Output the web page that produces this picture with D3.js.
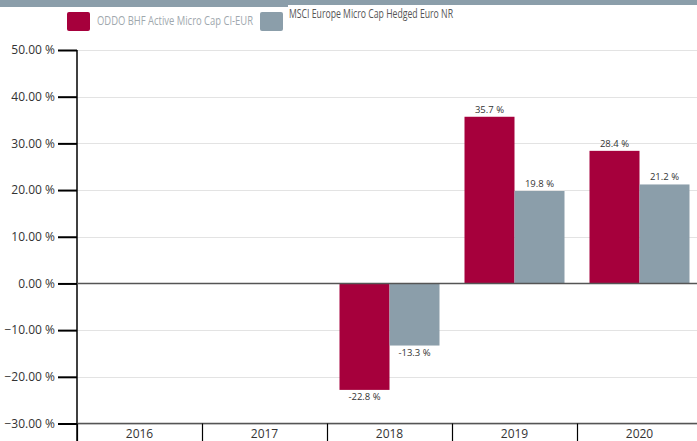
<!DOCTYPE html>
<html><head><meta charset="utf-8">
<script src="https://cdn.jsdelivr.net/npm/d3@7"></script>
<style>body{margin:0;background:#fff;}svg{display:block;font-family:"Open Sans",sans-serif;}</style>
</head><body><svg id="c" width="697" height="441"></svg>
<script>
const categories = ["2016","2017","2018","2019","2020"];
const seriesNames = ["ODDO BHF Active Micro Cap CI-EUR","MSCI Europe Micro Cap Hedged Euro NR"];
const fundValues = [null,null,-22.8,35.7,28.4];
const indexValues = [null,null,-13.3,19.8,21.2];
const yTicks = [-30,-20,-10,0,10,20,30,40,50];
const colors = ["#a6003c","#8b9eaa"];

const svg = d3.select("#c");
const x0 = 77, x1 = 702, yTop = 50, yBot = 423.5;
const x = d3.scaleBand().domain(categories).range([x0,x1]).paddingInner(0).paddingOuter(0);
const xs = d3.scaleBand().domain([0,1]).range([0,x.bandwidth()]).paddingOuter(0.25).paddingInner(0);
const y = d3.scaleLinear().domain([-30,50]).range([yBot,yTop]);

// top band
svg.append("rect").attr("x",0).attr("y",0).attr("width",697).attr("height",5).attr("fill","#8b9eaa");
svg.append("rect").attr("x",0).attr("y",0).attr("width",288).attr("height",7).attr("fill","#8b9eaa");

// legend
const lg = svg.append("g");
lg.append("rect").attr("x",67).attr("y",12).attr("width",23).attr("height",19).attr("rx",2).attr("fill",colors[0]);
lg.append("text").attr("x",97).attr("y",22).attr("dominant-baseline","middle").attr("font-size",12.5)
  .attr("textLength",156).attr("lengthAdjust","spacingAndGlyphs").attr("fill","#a0a8ae").text(seriesNames[0]);
lg.append("rect").attr("x",260).attr("y",12).attr("width",23).attr("height",19).attr("rx",2).attr("fill",colors[1]);
lg.append("text").attr("x",289).attr("y",15).attr("dominant-baseline","middle").attr("font-size",12)
  .attr("textLength",164).attr("lengthAdjust","spacingAndGlyphs").attr("fill","#555").text(seriesNames[1]);

// grid
svg.append("g").selectAll("line").data(yTicks).join("line")
  .attr("x1",x0).attr("x2",697).attr("y1",d=>Math.round(y(d))+0.5).attr("y2",d=>Math.round(y(d))+0.5)
  .attr("stroke","#e3e3e3").attr("stroke-width",1);

// y axis
const ya = svg.append("g").attr("transform",`translate(${x0},0)`)
  .call(d3.axisLeft(y).tickValues(yTicks).tickSize(19).tickPadding(3).tickFormat(d=>d3.format(".2f")(d)+" %"));
ya.select(".domain").remove();
ya.selectAll(".tick line").attr("stroke","#000").attr("stroke-width",2);
ya.selectAll(".tick text").attr("font-size",12).attr("fill","#333").attr("font-family","'Open Sans',sans-serif");
svg.append("line").attr("x1",x0).attr("x2",x0).attr("y1",yTop).attr("y2",441).attr("stroke","#000").attr("stroke-width",1.5);

// bars
const data = categories.map((c,i)=>({c, v:[fundValues[i],indexValues[i]]}));
const g = svg.append("g");
data.forEach(d=>{
  d.v.forEach((v,k)=>{
    if(v==null) return;
    const bx = x(d.c)+xs(k), bw = xs.bandwidth();
    g.append("rect").attr("x",bx).attr("width",bw)
      .attr("y",y(Math.max(0,v))).attr("height",Math.abs(y(v)-y(0)))
      .attr("fill",colors[k]);
    g.append("text").attr("x",bx+bw/2).attr("y",v>=0?y(v)-4:y(v)+8)
      .attr("text-anchor","middle").attr("font-size",9.5).attr("fill","#333")
      .attr("dominant-baseline",v>=0?"auto":"middle").text(v.toFixed(1)+" %");
  });
});

// zero line
svg.append("line").attr("x1",x0).attr("x2",697).attr("y1",y(0)).attr("y2",y(0)).attr("stroke","#555").attr("stroke-width",1.5);

// x axis
const xa = svg.append("g").attr("transform",`translate(0,${yBot})`);
xa.append("line").attr("x1",x0).attr("x2",697).attr("y1",0).attr("y2",0).attr("stroke","#555").attr("stroke-width",1.5);
xa.selectAll("line.sep").data(categories).join("line").attr("class","sep")
  .attr("x1",d=>x(d)+0.5).attr("x2",d=>x(d)+0.5).attr("y1",0).attr("y2",18).attr("stroke","#000").attr("stroke-width",1.2);
xa.selectAll("text").data(categories).join("text")
  .attr("x",d=>x(d)+x.bandwidth()/2).attr("y",11).attr("dominant-baseline","middle")
  .attr("text-anchor","middle").attr("font-size",12).attr("fill","#333").text(d=>d);
</script></body></html>
